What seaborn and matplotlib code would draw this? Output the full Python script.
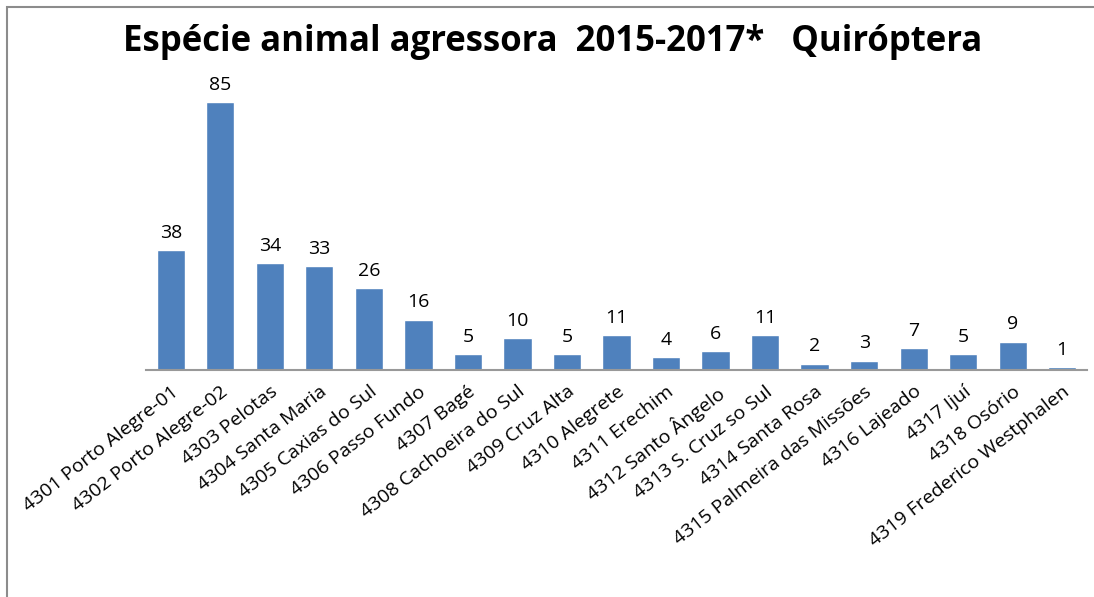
import matplotlib
matplotlib.use("Agg")
import matplotlib.pyplot as plt
import matplotlib.patches as mpatches
import seaborn as sns
import pandas as pd

categories = [
    "4301 Porto Alegre-01", "4302 Porto Alegre-02", "4303 Pelotas", "4304 Santa Maria",
    "4305 Caxias do Sul", "4306 Passo Fundo", "4307 Bagé", "4308 Cachoeira do Sul",
    "4309 Cruz Alta", "4310 Alegrete", "4311 Erechim", "4312 Santo Ângelo",
    "4313 S. Cruz so Sul", "4314 Santa Rosa", "4315 Palmeira das Missões",
    "4316 Lajeado", "4317 Ijuí", "4318 Osório", "4319 Frederico Westphalen",
]
values = [38, 85, 34, 33, 26, 16, 5, 10, 5, 11, 4, 6, 11, 2, 3, 7, 5, 9, 1]
title = "Espécie animal agressora  2015-2017*   Quiróptera"

df = pd.DataFrame({"cat": categories, "val": values})

sns.set_theme(style="white")
plt.rcParams["font.family"] = ["Open Sans", "DejaVu Sans"]
plt.rcParams["text.color"] = "black"
plt.rcParams["xtick.color"] = "black"

fig = plt.figure(figsize=(10.94, 5.97), dpi=100)
ax = fig.add_axes([146 / 1094, 1 - 370 / 597, (1087 - 146) / 1094, (370 - 86) / 597])

sns.barplot(data=df, x="cat", y="val", color="#4F81BD", saturation=1, width=0.57, ax=ax)

for i, v in enumerate(values):
    ax.text(i, v + 2.6, str(v), ha="center", va="bottom", fontsize=14, color="black")

ax.set_ylim(0, 90)
ax.set_xlim(-0.5, len(categories) - 0.5)
ax.set_xlabel("")
ax.set_ylabel("")
ax.set_yticks([])
for s in ["top", "right", "left"]:
    ax.spines[s].set_visible(False)
ax.spines["bottom"].set_color("#999999")
ax.spines["bottom"].set_linewidth(1.5)
ax.tick_params(axis="x", length=0, pad=9)
ax.set_xticks(range(len(categories)))
ax.set_xticklabels(categories, rotation=38, ha="right", rotation_mode="anchor",
                   fontsize=14, color="black")

fig.text(0.505, 1 - 42 / 597, title, ha="center", va="center", fontsize=25,
         fontweight="bold", color="black")

frame = mpatches.Rectangle((7 / 1094, -0.1), 1.2, 1 - 7 / 597 + 0.1, transform=fig.transFigure,
                           fill=False, edgecolor="#8c8c8c", linewidth=1.5)
fig.patches.append(frame)

fig.savefig("out.png", dpi=100)
